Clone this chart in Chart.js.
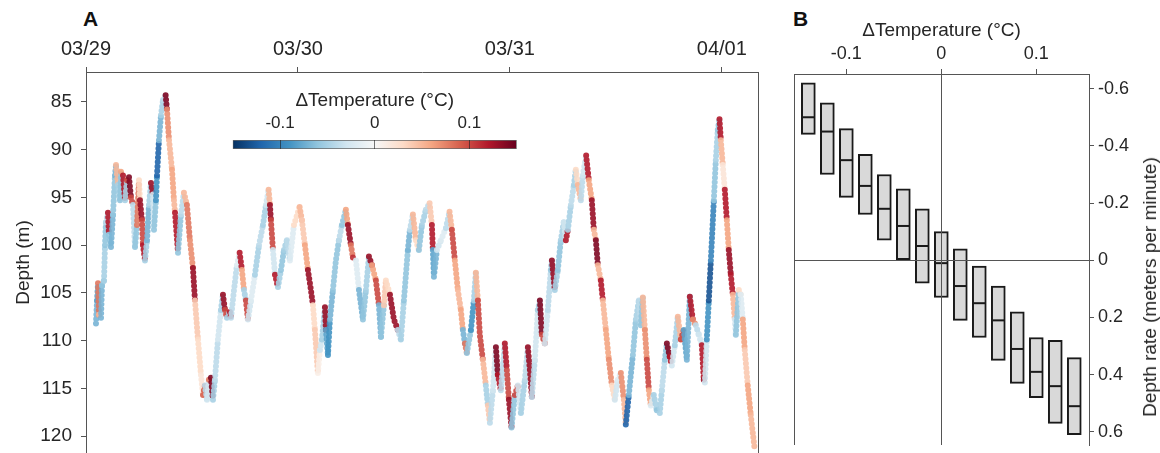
<!DOCTYPE html>
<html><head><meta charset="utf-8">
<script src="https://cdn.jsdelivr.net/npm/chart.js@4.4.1/dist/chart.umd.min.js"></script>
<style>
html,body{margin:0;padding:0;background:#fff;width:1160px;height:453px;overflow:hidden;font-family:'Liberation Sans',Arial,sans-serif;color:#262626}
canvas{position:absolute}
.lab{position:absolute;font-weight:bold;font-size:21px;color:#111;line-height:24px}
#rateTitle{position:absolute;left:1150px;top:287px;font-size:19px;white-space:nowrap;transform:translate(-50%,-50%) rotate(-90deg)}
</style></head><body>
<div class="lab" style="left:83px;top:7px">A</div>
<div class="lab" style="left:793px;top:7px">B</div>
<canvas id="depthChart" width="775" height="453" style="left:0;top:0"></canvas>
<canvas id="cbar" width="350" height="69" style="left:200px;top:80px"></canvas>
<canvas id="boxChart" width="390" height="453" style="left:770px;top:0"></canvas>
<div id="rateTitle">Depth rate (meters per minute)</div>
<script>
// panel A: depth trace, time in hours since 03/29 00:00
const dateTicks = [0, 24, 48, 72];
const dateLabels = ['03/29', '03/30', '03/31', '04/01'];
const depthTicks = [85, 90, 95, 100, 105, 110, 115, 120];

const hours = [
  1.13,1.25,1.36,1.47,1.70,1.81,2.04,2.15,2.26,2.49,
  2.60,2.83,3.06,3.28,3.40,3.62,3.85,3.96,4.19,4.42,
  4.64,4.87,5.09,5.32,5.55,5.77,6.00,6.11,6.34,6.45,
  6.68,6.91,7.13,7.36,7.58,7.70,7.92,8.04,8.26,8.49,
  8.72,9.02,9.17,9.40,9.74,9.96,10.08,10.42,10.75,11.09,
  11.43,11.77,12.11,12.34,12.68,13.02,13.25,13.47,13.70,13.92,
  14.15,14.38,14.60,14.94,15.28,15.51,15.74,15.96,16.30,16.42,
  16.76,17.09,17.40,17.66,17.89,18.11,18.34,18.68,19.13,19.59,
  20.04,20.38,20.68,20.83,20.94,21.17,21.40,21.74,22.08,22.42,
  22.76,23.09,23.55,24.19,24.45,24.79,25.13,25.47,25.70,25.92,
  26.26,26.49,26.72,27.06,27.17,27.40,27.62,27.96,28.30,28.64,
  28.98,29.43,29.66,30.00,30.23,30.57,30.91,31.36,31.70,32.04,
  32.38,32.83,33.17,33.40,33.74,33.96,34.42,34.87,35.32,35.66,
  36.00,36.45,36.68,37.02,37.36,37.70,38.04,38.49,38.91,39.17,
  39.28,39.40,39.74,40.19,40.76,41.17,41.43,41.77,42.11,42.45,
  42.68,42.91,43.13,43.59,43.92,44.15,44.38,44.60,44.94,45.28,
  45.51,45.74,46.08,46.42,46.64,46.98,47.43,47.66,47.89,48.19,
  48.57,48.91,49.25,49.70,50.04,50.27,50.49,50.83,51.17,51.40,
  51.62,51.96,52.30,52.64,52.76,53.09,53.43,53.77,54.11,54.34,
  54.57,54.91,55.25,55.47,55.70,56.04,56.26,56.64,56.94,57.28,
  57.51,57.74,57.96,58.30,58.53,58.87,59.21,59.55,59.89,60.23,
  60.57,60.91,61.13,61.47,61.93,62.27,62.61,62.83,63.06,63.29,
  63.51,63.74,63.96,64.30,64.64,64.98,65.21,65.55,65.78,66.11,
  66.34,66.68,67.02,67.36,67.70,68.04,68.38,68.72,69.06,69.40,
  69.74,69.96,70.08,70.30,70.53,70.76,71.10,71.32,71.55,71.74,
  71.89,72.11,72.34,72.57,72.79,73.02,73.25,73.47,73.59,73.93,
  74.15,74.38,74.60,74.94,75.28,75.70
];
const depth = [
  108.2,105.8,104.0,107.3,107.6,104.2,103.7,100.0,97.6,96.6,
  98.9,100.2,96.8,92.7,91.6,93.7,95.3,92.3,92.7,95.3,
  93.2,92.9,95.0,95.8,100.2,97.9,93.2,95.3,97.4,100.0,
  101.6,99.5,95.8,93.5,94.7,98.4,95.3,92.7,89.0,86.4,
  84.8,84.3,85.8,89.0,92.1,95.3,96.6,100.8,96.8,94.5,
  95.8,99.5,102.4,105.8,109.9,113.6,115.7,114.7,116.2,114.1,
  113.9,116.2,114.1,109.9,106.8,105.2,106.8,107.6,107.0,107.6,
  104.7,102.1,100.8,102.6,104.7,105.8,107.8,105.8,103.1,100.0,
  97.9,95.8,94.2,95.8,97.4,100.5,103.1,104.4,102.6,100.5,
  99.5,101.6,97.9,96.0,97.4,100.0,102.6,104.7,106.3,108.9,
  113.4,111.0,109.9,106.5,108.9,111.5,107.8,104.7,101.6,99.5,
  97.9,96.3,97.9,100.0,101.3,101.6,104.7,107.8,104.7,101.2,
  102.1,103.7,106.3,109.6,106.3,103.7,105.2,107.8,108.9,109.9,
  105.8,100.5,98.4,96.8,99.5,100.5,97.9,96.3,95.6,97.9,
  100.5,103.3,100.5,99.5,98.2,96.5,98.4,101.6,104.7,106.8,
  108.9,110.3,111.3,108.9,105.8,102.9,105.8,109.4,112.0,114.7,
  116.8,118.6,115.2,110.7,113.6,115.2,110.3,113.1,116.2,119.1,
  115.7,114.7,117.6,114.1,110.7,113.1,115.9,112.0,106.8,105.8,
  109.4,110.3,106.8,102.6,101.6,104.7,102.6,99.5,97.6,99.5,
  98.4,95.8,93.7,92.1,93.7,95.3,92.7,90.6,93.2,95.3,
  98.4,99.5,102.1,103.7,105.8,108.9,112.0,114.7,116.2,114.1,
  113.4,116.2,118.8,115.7,111.5,107.8,105.8,108.4,105.5,108.9,
  112.0,115.2,116.8,115.7,117.3,117.6,115.2,112.0,110.3,111.7,
  112.6,110.5,107.5,109.9,108.9,112.0,105.4,107.8,108.4,109.4,
  110.5,114.1,114.4,109.9,105.8,101.6,95.3,91.1,87.9,86.8,
  89.0,91.6,94.2,97.4,100.5,103.1,105.2,107.8,109.4,104.7,
  105.2,107.8,111.0,114.7,117.8,121.2
];
const dTemp = [
  -0.07,-0.08,0.08,0.05,-0.07,-0.06,-0.05,-0.06,-0.04,0.12,
  -0.06,-0.07,-0.06,-0.07,0.05,-0.05,-0.06,0.06,0.12,-0.05,
  0.10,0.14,0.10,-0.04,-0.06,0.08,0.03,0.13,0.10,0.12,
  -0.05,-0.07,-0.05,0.13,-0.03,-0.06,-0.09,-0.12,-0.07,-0.05,
  -0.04,0.14,0.07,0.05,0.06,0.05,0.12,-0.06,-0.04,0.05,
  0.08,0.07,0.13,0.04,0.03,0.02,0.09,-0.04,-0.03,0.08,
  0.14,-0.05,-0.04,-0.03,-0.05,0.13,0.10,-0.05,0.12,-0.04,
  -0.04,-0.02,0.12,0.06,-0.05,0.10,-0.03,-0.02,-0.05,-0.04,
  -0.05,-0.03,0.05,0.13,0.10,-0.03,0.12,-0.05,-0.06,-0.05,
  -0.04,-0.02,0.03,0.05,0.04,0.06,0.13,0.13,0.03,0.04,
  0.01,-0.03,-0.05,0.13,-0.08,-0.09,-0.07,-0.06,-0.06,-0.04,
  -0.06,0.06,0.13,0.08,0.11,-0.02,-0.07,-0.06,-0.05,0.13,
  0.06,0.10,-0.07,-0.06,0.04,0.03,0.13,0.13,-0.04,-0.05,
  -0.06,-0.07,-0.04,0.05,0.03,-0.06,-0.05,-0.04,0.04,0.12,
  -0.08,-0.07,-0.03,-0.02,-0.04,0.05,0.10,0.06,0.05,0.06,
  -0.07,0.08,-0.06,-0.09,-0.05,0.05,0.10,0.10,0.05,-0.05,
  0.04,-0.04,-0.03,0.14,0.12,-0.04,0.12,0.10,0.13,-0.06,
  0.10,-0.03,-0.05,-0.04,0.13,0.13,-0.04,-0.03,-0.05,0.14,
  0.10,-0.03,-0.04,-0.06,0.13,-0.05,-0.06,-0.05,-0.03,0.12,
  -0.05,-0.04,-0.05,0.03,0.05,-0.04,-0.03,0.12,0.06,0.13,
  0.05,0.14,0.05,0.12,0.05,0.06,0.07,0.03,-0.03,-0.02,
  0.07,0.05,-0.12,-0.07,-0.06,-0.05,-0.04,-0.06,0.05,0.07,
  0.10,0.06,-0.02,-0.05,-0.06,-0.05,-0.04,-0.06,0.14,0.12,
  -0.03,-0.05,0.05,0.10,-0.08,-0.07,0.12,0.07,-0.04,-0.03,
  0.12,0.13,-0.03,-0.09,-0.13,-0.10,-0.06,-0.05,-0.06,0.12,
  0.05,0.02,0.12,0.06,0.13,0.12,0.05,-0.03,-0.06,0.03,
  -0.02,0.06,0.04,0.06,0.05,0.04
];

// colour bar
const cbarRange = [-0.15, 0.15];
const tempTicks = [-0.1, 0, 0.1];
const tempLabels = ['-0.1', '0', '0.1'];

// panel B: depth rate per temperature bin (box = quartiles, line = median)
const binTemp = [-0.14,-0.12,-0.10,-0.08,-0.06,-0.04,-0.02,0,0.02,0.04,0.06,0.08,0.10,0.12,0.14];
const rateQ1  = [-0.62,-0.55,-0.46,-0.37,-0.30,-0.25,-0.18,-0.10,-0.04,0.02,0.09,0.18,0.27,0.28,0.34];
const rateMed = [-0.50,-0.45,-0.35,-0.26,-0.18,-0.12,-0.05,0.01,0.09,0.15,0.21,0.31,0.39,0.44,0.51];
const rateQ3  = [-0.44,-0.30,-0.22,-0.16,-0.07,0.00,0.08,0.13,0.21,0.27,0.35,0.43,0.48,0.57,0.61];
const rateTicks = [-0.6, -0.4, -0.2, 0, 0.2, 0.4, 0.6];
const rateLabels = ['-0.6', '-0.4', '-0.2', '0', '0.2', '0.4', '0.6'];

const rdbu = ['#053061','#2166ac','#4393c3','#92c5de','#d1e5f0','#f7f7f7','#fddbc7','#f4a582','#d6604d','#b2182b','#67001f'];
const hex = h => [1,3,5].map(i => parseInt(h.substr(i,2),16));
function tempColor(t, a){
  const f = (Math.max(cbarRange[0], Math.min(cbarRange[1], t)) - cbarRange[0]) / (cbarRange[1]-cbarRange[0]) * (rdbu.length-1);
  const i = Math.min(Math.floor(f), rdbu.length-2), w = f - i;
  const c0 = hex(rdbu[i]), c1 = hex(rdbu[i+1]);
  const c = c0.map((v,k) => Math.round(v + (c1[k]-v)*w));
  return `rgba(${c[0]},${c[1]},${c[2]},${a==null?1:a})`;
}

Chart.defaults.font.family = "'Liberation Sans', Arial, sans-serif";
Chart.defaults.color = '#262626';
const AX = '#555';

const frame = sides => ({
  id: 'frame',
  afterDraw(chart){
    const {ctx, chartArea: a} = chart;
    ctx.save(); ctx.strokeStyle = AX; ctx.lineWidth = 1;
    ctx.beginPath();
    if (sides.includes('r')) { ctx.moveTo(a.right+0.5, a.top); ctx.lineTo(a.right+0.5, a.bottom); }
    if (sides.includes('l')) { ctx.moveTo(a.left+0.5, a.top); ctx.lineTo(a.left+0.5, a.bottom); }
    ctx.stroke(); ctx.restore();
  }
});
const fixTicks = list => s => { s.ticks = list.map(v => ({value: v})); };
const noLegend = { legend: {display: false}, tooltip: {enabled: false} };

new Chart(document.getElementById('depthChart'), {
  type: 'line',
  data: { datasets: [{
    data: hours.map((h, i) => ({x: h, y: depth[i]})),
    borderWidth: 6, borderDash: [0, 4.5], borderCapStyle: 'round', borderJoinStyle: 'round',
    pointRadius: 0, tension: 0,
    segment: { borderColor: c => tempColor(dTemp[c.p0DataIndex], 0.9) }
  }]},
  options: {
    responsive: false, animation: false,
    layout: { padding: {left: 0, right: 17, top: 0, bottom: 0} },
    plugins: noLegend,
    scales: {
      x: { type: 'linear', position: 'top', min: 0, max: 76.1,
        afterBuildTicks: fixTicks(dateTicks),
        ticks: { callback: v => dateLabels[dateTicks.indexOf(v)], font: {size: 20}, padding: 6, maxRotation: 0, autoSkip: false },
        grid: { drawOnChartArea: false, tickLength: 5, tickColor: AX },
        border: { color: AX },
        afterFit: s => { s.height = 72; s.paddingLeft = 0; s.paddingRight = 0; } },
      y: { type: 'linear', reverse: true, min: 81.86, max: 121.78,
        afterBuildTicks: fixTicks(depthTicks),
        ticks: { font: {size: 19}, padding: 9, autoSkip: false },
        title: { display: true, text: 'Depth (m)', font: {size: 19}, padding: {top: 12, bottom: 0} },
        grid: { drawOnChartArea: false, tickLength: 5, tickColor: AX },
        border: { color: AX },
        afterFit: s => { s.width = 86; s.paddingTop = 0; s.paddingBottom = 0; } }
    }
  },
  plugins: [frame('r')]
});

new Chart(document.getElementById('cbar'), {
  type: 'bar',
  data: { labels: [''], datasets: [{
    data: [cbarRange],
    backgroundColor: c => {
      const a = c.chart.chartArea; if (!a) return '#ccc';
      const g = c.chart.ctx.createLinearGradient(a.left, 0, a.right, 0);
      rdbu.forEach((col, i) => g.addColorStop(i/(rdbu.length-1), col));
      return g;
    },
    borderColor: '#666', borderWidth: 1, borderSkipped: false,
    barPercentage: 1, categoryPercentage: 1
  }]},
  options: {
    indexAxis: 'y', responsive: false, animation: false,
    layout: { padding: {left: 32.7, right: 33.3, top: 0, bottom: 0} },
    plugins: noLegend,
    scales: {
      x: { type: 'linear', position: 'top', min: cbarRange[0], max: cbarRange[1],
        afterBuildTicks: fixTicks(tempTicks),
        ticks: { callback: v => tempLabels[tempTicks.indexOf(v)], font: {size: 17}, padding: 6, maxRotation: 0 },
        title: { display: true, text: 'ΔTemperature (°C)', font: {size: 19}, padding: {top: 9, bottom: 0} },
        grid: { drawTicks: false, color: 'rgba(30,30,30,0.6)', z: 1 },
        border: { display: false },
        afterFit: s => { s.height = 60; s.paddingLeft = 0; s.paddingRight = 0; } },
      y: { display: false }
    }
  }
});

const zeroOnly = c => (c.tick && c.tick.value === 0) ? AX : 'rgba(0,0,0,0)';
new Chart(document.getElementById('boxChart'), {
  type: 'bar',
  data: { datasets: [
    { type: 'bar', data: binTemp.map((t, i) => ({x: t, y: [rateQ1[i], rateQ3[i]]})),
      backgroundColor: '#d9d9d9', borderColor: '#1a1a1a', borderWidth: 2, borderSkipped: false,
      barThickness: 14, order: 2 },
    { type: 'line', data: binTemp.map((t, i) => ({x: t, y: rateMed[i]})),
      showLine: false, pointStyle: 'line', pointRadius: 6, pointBorderWidth: 2,
      pointBorderColor: '#1a1a1a', order: 1 }
  ]},
  options: {
    responsive: false, animation: false,
    layout: { padding: {left: 24, right: 0, top: 0, bottom: 0} },
    plugins: noLegend,
    scales: {
      x: { type: 'linear', position: 'top', offset: false, min: -0.1551, max: 0.1555,
        afterBuildTicks: fixTicks(tempTicks),
        ticks: { callback: v => tempLabels[tempTicks.indexOf(v)], font: {size: 18}, padding: 4, maxRotation: 0 },
        title: { display: true, text: 'ΔTemperature (°C)', font: {size: 19}, padding: {top: 19, bottom: 0} },
        grid: { offset: false, color: zeroOnly, tickColor: AX, tickLength: 5, z: 1 },
        border: { color: AX, z: 2 },
        afterFit: s => { s.height = 74; s.paddingLeft = 0; s.paddingRight = 0; } },
      y: { type: 'linear', position: 'right', reverse: true, min: -0.6512, max: 0.6457,
        afterBuildTicks: fixTicks(rateTicks),
        ticks: { callback: v => rateLabels[rateTicks.indexOf(v)], font: {size: 18}, padding: 4 },
        grid: { color: zeroOnly, tickColor: AX, tickLength: 5, z: 1 },
        border: { color: AX, z: 2 },
        afterFit: s => { s.width = 71; s.paddingTop = 0; s.paddingBottom = 0; } }
    }
  },
  plugins: [frame('l')]
});
</script>
</body></html>
